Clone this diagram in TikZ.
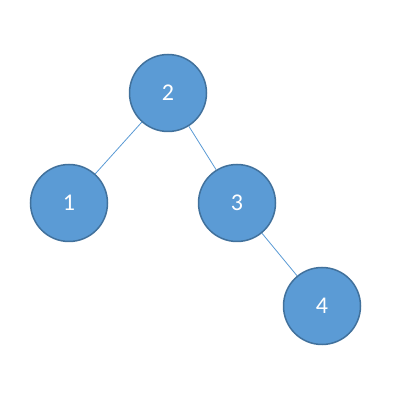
\documentclass[tikz,border=0pt]{standalone}
\usepackage{fontspec}
\setmainfont{Carlito}
\definecolor{nodefill}{HTML}{5B9BD5}
\definecolor{nodeline}{HTML}{41719C}
\begin{document}
\begin{tikzpicture}[x=1pt,y=-1pt,
  treenode/.style={circle,draw=nodeline,line width=1.5pt,fill=nodefill,minimum size=77pt,inner sep=0pt,text=white,font=\fontsize{24}{26}\selectfont},
  edge/.style={draw=nodefill,line width=0.8pt}]
\useasboundingbox[fill=white] (0,0) rectangle (418,403);
\node[treenode] (n2) at (168,93) {2};
\node[treenode] (n1) at (69,203) {1};
\node[treenode] (n3) at (237,203) {3};
\node[treenode] (n4) at (322,306) {4};
\draw[edge] (n2) -- (n1);
\draw[edge] (n2) -- (n3);
\draw[edge] (n3) -- (n4);
\end{tikzpicture}
\end{document}
